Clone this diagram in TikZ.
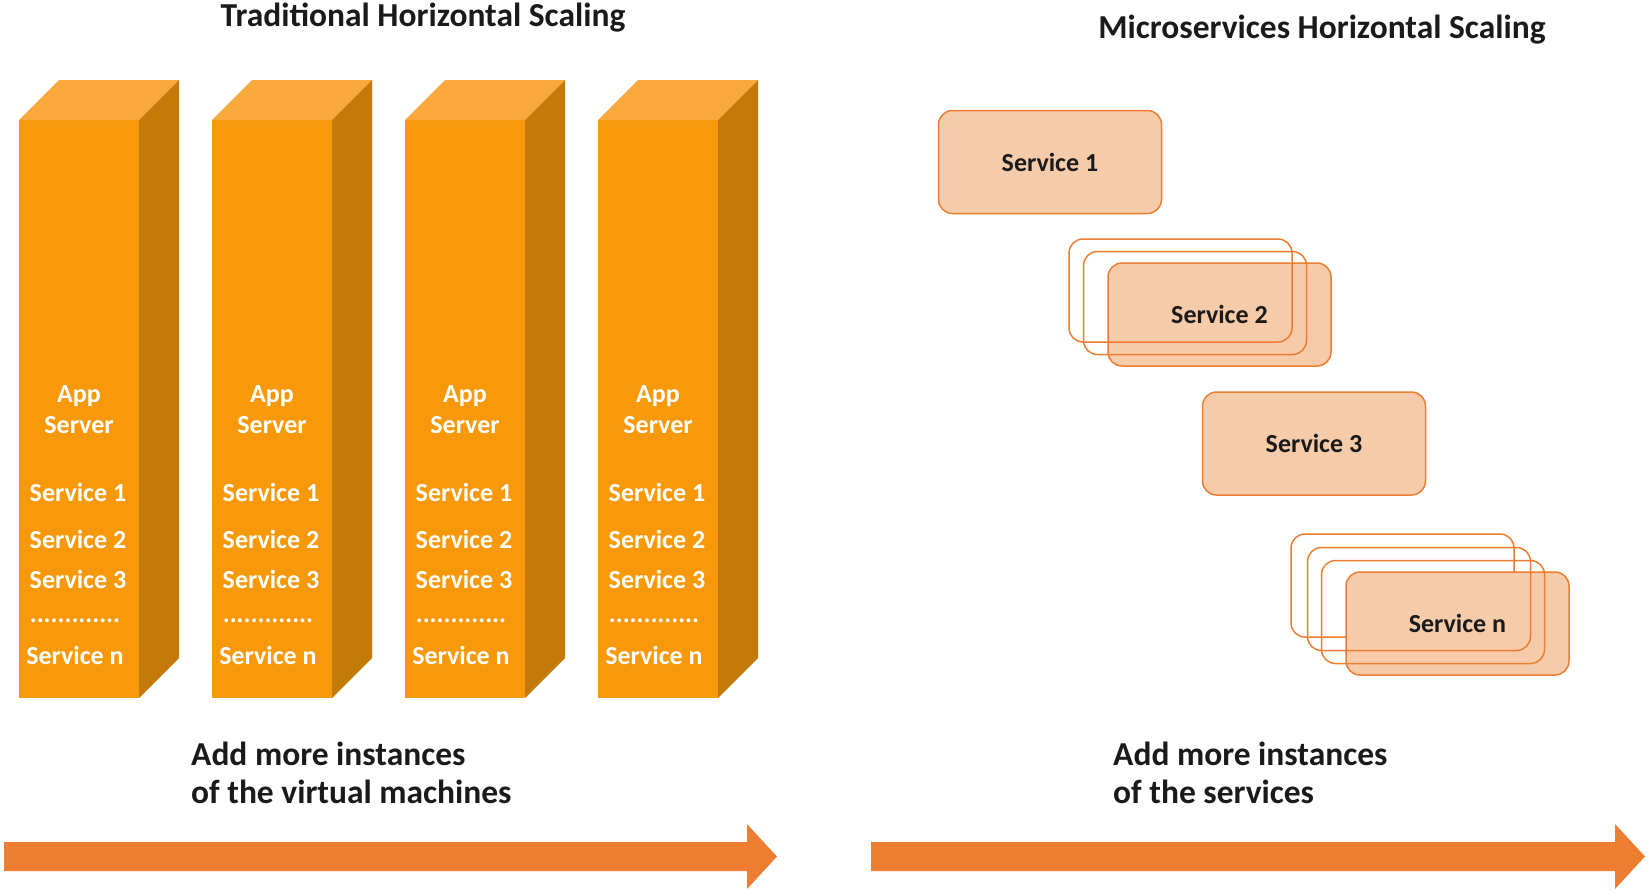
\documentclass[tikz,border=0pt]{standalone}
\usepackage{fontspec}
\setmainfont{Carlito}
\definecolor{towerfront}{HTML}{F7990A}
\definecolor{towerside}{HTML}{C47A08}
\definecolor{towertop}{HTML}{F9A83C}
\definecolor{arrowfill}{HTML}{ED7D31}
\definecolor{boxfill}{HTML}{F6CBAA}
\definecolor{boxline}{HTML}{ED7D31}
\definecolor{ink}{HTML}{1A1A1A}
\begin{document}
\begin{tikzpicture}[x=1pt,y=-1pt]
        \tikzstyle{every node}=[inner sep=0pt,font=\bfseries];
        \tikzstyle{heading}=[text=ink,font=\fontsize{33.5}{37.5}\selectfont\bfseries];
        \tikzstyle{vmtxt}=[text=white,font=\fontsize{26}{31}\selectfont\bfseries];
        \tikzstyle{svc}=[draw=boxline,line width=1.5pt,rounded corners=14pt,minimum width=223pt,minimum height=103pt,text=ink,font=\fontsize{26}{31}\selectfont\bfseries];
        \tikzstyle{svcfill}=[svc,fill=boxfill];
        \useasboundingbox (0,0) rectangle (1650,892);
        % titles
        \node[heading] (trad) at (423,18) {Traditional Horizontal Scaling};
        \node[heading] (micro) at (1322,30) {Microservices Horizontal Scaling};
        % virtual machines
        \foreach \x in {19,212,405,598}{
          \fill[towerfront] (\x,120) rectangle (\x+120,698);
          \fill[towertop] (\x,120) -- (\x+40,80) -- (\x+160,80) -- (\x+120,120) -- cycle;
          \fill[towerside] (\x+120,120) -- (\x+160,80) -- (\x+160,658) -- (\x+120,698) -- cycle;
          \node[vmtxt,align=center] (app\x) at (\x+60,410) {App\\Server};
          \node[vmtxt] (one\x) at (\x+59,492) {Service 1};
          \node[vmtxt] (two\x) at (\x+59,539) {Service 2};
          \node[vmtxt] (three\x) at (\x+59,579) {Service 3};
          \node[vmtxt] (dots\x) at (\x+56,621) {.............};
          \node[vmtxt] (n\x) at (\x+56,655) {Service n};
        }
        % services
        \node[svcfill] (s1) at (1050,162) {Service 1};
        \node[svcfill] (s2) at (1219.5,314.5) {Service 2};
        \node[svc] (s2a) at (1180.5,290.5) {};
        \node[svc] (s2b) at (1195,303) {};
        \node[svcfill] (s3) at (1314,443.5) {Service 3};
        \node[svc] (sna) at (1402.5,585.5) {};
        \node[svcfill] (sn) at (1457.5,623.5) {Service n};
        \node[svc] (snb) at (1419,599) {};
        \node[svc] (snc) at (1433,612) {};
        % captions
        \node[heading,align=left,anchor=west] (addvm) at (191,773) {Add more instances\\of the virtual machines};
        \node[heading,align=left,anchor=west] (addsvc) at (1113,773) {Add more instances\\of the services};
        % block arrows
        \fill[arrowfill] (4,842) -- (747,842) -- (747,824) -- (777,856.5) -- (747,889) -- (747,871) -- (4,871) -- cycle;
        \fill[arrowfill] (871,842) -- (1615,842) -- (1615,824) -- (1645,856.5) -- (1615,889) -- (1615,871) -- (871,871) -- cycle;
    \end{tikzpicture}
\end{document}
